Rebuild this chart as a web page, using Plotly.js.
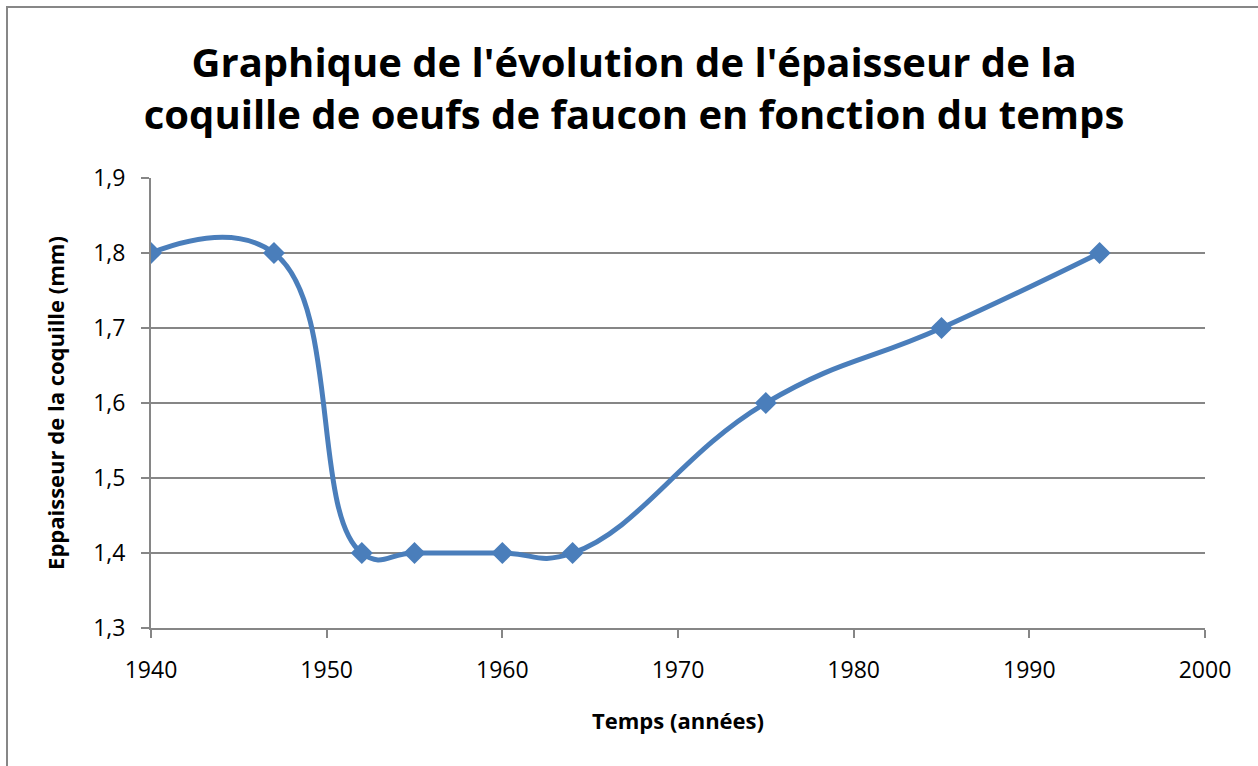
<!DOCTYPE html>
<html>
<head>
<meta charset="utf-8">
<script src="https://cdn.plot.ly/plotly-3.0.1.min.js"></script>
<style>
html,body{margin:0;padding:0;background:#fff;overflow:hidden;}
#chart{width:1258px;height:766px;position:relative;}
#frame{position:absolute;left:6px;top:6px;width:1400px;height:900px;border:2px solid #878787;pointer-events:none;box-sizing:border-box;}
</style>
</head>
<body>
<div id="chart"></div>
<div id="frame"></div>
<script>
const years = [1940, 1947, 1952, 1955, 1960, 1964, 1975, 1985, 1994];
const thickness = [1.8, 1.8, 1.4, 1.4, 1.4, 1.4, 1.6, 1.7, 1.8];
const titleText = "Graphique de l'évolution de l'épaisseur de la<br>coquille de oeufs de faucon en fonction du temps";
const xTitle = "Temps (années)";
const yTitle = "Eppaisseur de la coquille (mm)";

const font = "Open Sans, Lato, sans-serif";
const trace = {
  x: years, y: thickness, type: 'scatter', mode: 'lines+markers',
  line: {color: '#4A7EBB', width: 5, shape: 'spline', smoothing: 1.3},
  marker: {symbol: 'diamond', size: 17, color: '#4A7EBB'},
  hoverinfo: 'x+y'
};
const layout = {
  width: 1258, height: 766,
  margin: {l: 151, r: 53, t: 178, b: 138},
  paper_bgcolor: '#fff', plot_bgcolor: '#fff',
  separators: ', ',
  showlegend: false,
  font: {family: font, color: '#000'},
  title: {text: titleText, font: {family: font, size: 40, color: '#000', weight: 'bold'},
          x: 0.504, xanchor: 'center', y: 0.899, yanchor: 'middle', yref: 'container'},
  xaxis: {range: [1940, 2000], dtick: 10, tick0: 1940, showgrid: false, zeroline: false,
          showline: true, linecolor: '#868686', linewidth: 2, ticks: 'outside', ticklen: 8,
          tickcolor: '#868686', tickwidth: 2, tickfont: {size: 23, family: font}, fixedrange: true,
          ticklabelstandoff: 12,
          title: {text: xTitle, font: {size: 22, family: font, weight: 'bold'}, standoff: 30}},
  yaxis: {range: [1.3, 1.9], dtick: 0.1, tick0: 1.3, tickformat: '.1f', showgrid: true, gridcolor: '#868686',
          gridwidth: 1.5, zeroline: false, showline: true, linecolor: '#868686', linewidth: 2, ticks: 'outside',
          ticklen: 8, tickcolor: '#868686', tickwidth: 2, tickfont: {size: 23, family: font}, fixedrange: true,
          ticklabelstandoff: 11,
          title: {text: yTitle, font: {size: 22, family: font, weight: 'bold'}, standoff: 22}}
};
Plotly.newPlot('chart', [trace], layout, {displayModeBar: false});
</script>
</body>
</html>
